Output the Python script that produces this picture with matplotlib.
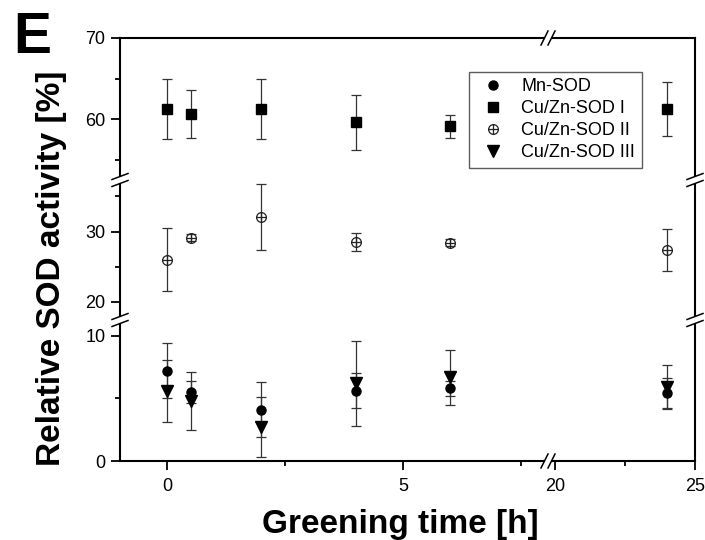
import matplotlib
matplotlib.use('Agg')
import matplotlib.pyplot as plt
from matplotlib.path import Path
from matplotlib.lines import Line2D

plt.rcParams['font.family'] = ['Liberation Sans', 'DejaVu Sans']

# greening time [h]
times = [0, 0.5, 2, 4, 6, 24]

mn_sod = [7.2, 5.5, 4.1, 5.6, 5.8, 5.4]
mn_sod_err = [2.2, 0.9, 2.2, 1.4, 0.6, 1.2]
cu_sod_1 = [61.2, 60.6, 61.2, 59.6, 59.1, 61.25]
cu_sod_1_err = [3.7, 3.0, 3.7, 3.4, 1.4, 3.35]
cu_sod_2 = [26.0, 29.1, 32.1, 28.5, 28.4, 27.4]
cu_sod_2_err = [4.5, 0.5, 4.7, 1.3, 0.5, 3.0]
cu_sod_3 = [5.6, 4.8, 2.7, 6.2, 6.7, 5.9]
cu_sod_3_err = [2.45, 2.3, 2.4, 3.4, 2.2, 1.75]

labels = ['Mn-SOD', 'Cu/Zn-SOD I', 'Cu/Zn-SOD II', 'Cu/Zn-SOD III']

W, H = 705, 540

# circle with a cross inside
oplus = Path.make_compound_path(
    Path.unit_circle(),
    Path([[-1, 0], [1, 0]], [Path.MOVETO, Path.LINETO]),
    Path([[0, -1], [0, 1]], [Path.MOVETO, Path.LINETO]),
)

series = [
    (mn_sod, mn_sod_err, dict(marker='o', ms=6.5, mfc='black', mec='black')),
    (cu_sod_1, cu_sod_1_err, dict(marker='s', ms=6.5, mfc='black', mec='black')),
    (cu_sod_2, cu_sod_2_err, dict(marker=oplus, ms=7, mfc='none', mec='#222222', mew=0.9)),
    (cu_sod_3, cu_sod_3_err, dict(marker='v', ms=8.5, mfc='black', mec='black')),
]


def box(l, t, r, b):
    return [l / W, 1 - b / H, (r - l) / W, (b - t) / H]


cols = [
    (120, 548, (-1, 8.08), [0, 5], [2.5, 7.5]),
    (548, 695, (19.75, 25), [20, 25], [22.5]),
]
rows = [
    (38, 180, (52.47, 70), [60, 70], [55, 65]),
    (180, 320, (17.4, 37.35), [20, 30], [25, 35]),
    (320, 461, (0, 11.26), [0, 10], [5]),
]

fig = plt.figure(figsize=(W / 100, H / 100), dpi=100)

for i, (t, b, ylim, yt, ymt) in enumerate(rows):
    for j, (l, r, xlim, xt, xmt) in enumerate(cols):
        ax = fig.add_axes(box(l, t, r, b))
        for y, yerr, style in series:
            ax.errorbar(times, y, yerr=yerr, ls='none', ecolor='#333333',
                        elinewidth=0.9, capsize=3.5, capthick=0.9, **style)
        ax.set_xlim(*xlim)
        ax.set_ylim(*ylim)
        ax.set_xticks(xt)
        ax.set_xticks(xmt, minor=True)
        ax.set_yticks(yt)
        ax.set_yticks(ymt, minor=True)
        for side in ['left', 'right', 'top', 'bottom']:
            ax.spines[side].set_linewidth(1.5)
        ax.spines['left'].set_visible(j == 0)
        ax.spines['right'].set_visible(j == 1)
        ax.spines['top'].set_visible(i == 0)
        ax.spines['bottom'].set_visible(i == 2)
        ax.tick_params(which='both', direction='out', width=1.3, labelsize=13,
                       top=False, right=False,
                       left=(j == 0), labelleft=(j == 0),
                       bottom=(i == 2), labelbottom=(i == 2))
        ax.tick_params(which='major', length=6.5, pad=4)
        ax.tick_params(which='minor', length=3.5)
        ax.tick_params(axis='x', which='major', pad=6)


def fig_line(xs, ys, **kw):
    fig.add_artist(Line2D([x / W for x in xs], [1 - y / H for y in ys],
                          transform=fig.transFigure, **kw))


# break marks on the y axis spines
for xc in (120, 695):
    for yc in (180, 320):
        fig_line([xc, xc], [yc - 3.5, yc + 3.5], color='white', lw=3,
                 solid_capstyle='butt')
        for y0 in (yc - 3.5, yc + 3.5):
            fig_line([xc - 8, xc + 8], [y0 + 3, y0 - 3], color='black', lw=1.1)

# break marks on the x axis spines
for yc in (38, 461):
    xc = 548
    fig_line([xc - 3.5, xc + 3.5], [yc, yc], color='white', lw=3,
             solid_capstyle='butt')
    for x0 in (xc - 3.5, xc + 3.5):
        fig_line([x0 - 3.5, x0 + 3.5], [yc + 7, yc - 7], color='black', lw=1.1)

handles = [Line2D([], [], ls='none', **style) for _, _, style in series]
leg = fig.legend(handles, labels, loc='upper left',
                 bbox_to_anchor=(469 / W, 1 - 72 / H), fontsize=13,
                 frameon=True, fancybox=False, edgecolor='#333333',
                 borderpad=0.35, labelspacing=0.28, handlelength=2.0,
                 handletextpad=0.55, borderaxespad=0)
leg.get_frame().set_linewidth(1.0)

fig.text(13 / W, 1 - 53 / H, 'E', fontsize=41, fontweight='bold',
         ha='left', va='baseline')
fig.text(52 / W, 1 - 268 / H, 'Relative SOD activity [%]', fontsize=24,
         fontweight='bold', rotation=90, ha='center', va='center')
fig.text(400 / W, 1 - 533 / H, 'Greening time [h]', fontsize=24,
         fontweight='bold', ha='center', va='baseline')

fig.savefig('out.png', dpi=100)
